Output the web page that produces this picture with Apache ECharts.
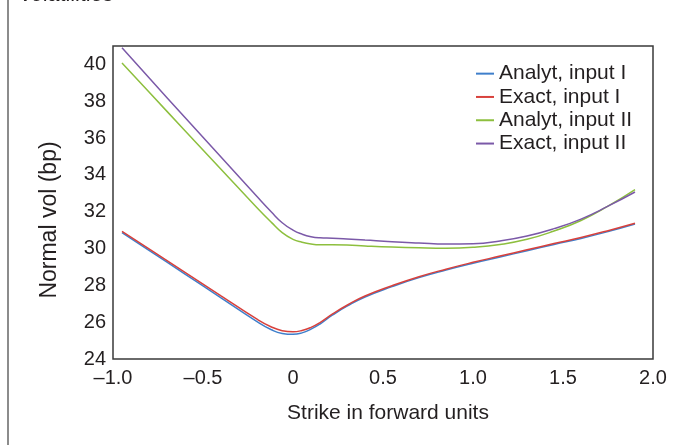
<!DOCTYPE html>
<html>
<head>
<meta charset="utf-8">
<script src="https://cdn.jsdelivr.net/npm/echarts@6/dist/echarts.min.js"></script>
<style>
  html, body { margin: 0; padding: 0; background: #ffffff; }
  #chart { width: 696px; height: 445px; }
</style>
</head>
<body>
<div id="chart"></div>
<script>
const strikes = [-0.95, -0.8, -0.6, -0.4, -0.2, -0.12, -0.06, 0, 0.05, 0.1, 0.15, 0.22, 0.3, 0.4, 0.55, 0.7, 0.85, 1.0, 1.15, 1.3, 1.45, 1.6, 1.75, 1.9];

const analytInputI = [30.86, 29.90, 28.61, 27.32, 26.03, 25.59, 25.39, 25.34, 25.42, 25.62, 25.90, 26.39, 26.87, 27.37, 27.93, 28.42, 28.83, 29.20, 29.54, 29.88, 30.22, 30.55, 30.92, 31.33];
const exactInputI  = [30.93, 29.98, 28.71, 27.43, 26.16, 25.74, 25.54, 25.48, 25.55, 25.72, 25.98, 26.45, 26.92, 27.42, 27.98, 28.47, 28.88, 29.25, 29.59, 29.93, 30.27, 30.60, 30.97, 31.37];
const analytInputII = [40.08, 38.50, 36.40, 34.31, 32.22, 31.42, 30.86, 30.50, 30.34, 30.24, 30.20, 30.20, 30.19, 30.14, 30.08, 30.04, 30.02, 30.07, 30.22, 30.50, 30.95, 31.52, 32.30, 33.20];
const exactInputII  = [40.90, 39.27, 37.12, 34.97, 32.82, 31.98, 31.40, 31.00, 30.78, 30.64, 30.58, 30.56, 30.52, 30.46, 30.37, 30.30, 30.24, 30.26, 30.41, 30.68, 31.08, 31.60, 32.30, 33.07];

const seriesNames = ['Analyt, input I', 'Exact, input I', 'Analyt, input II', 'Exact, input II'];
const xTickLabels = ['\u20131.0', '\u20130.5', '0', '0.5', '1.0', '1.5', '2.0'];
const yTickLabels = ['24', '26', '28', '30', '32', '34', '36', '38', '40'];

const xAxisTitle = 'Strike in forward units';
const yAxisTitle = 'Normal vol (bp)';
const topText = 'volatilities';

const colors = ['#3f7fcb', '#d8413c', '#8dbf3e', '#7b59a8'];
const FONT = '"Liberation Sans", Arial, Helvetica, sans-serif';
const TEXT = '#231f20';

const allValues = [analytInputI, exactInputI, analytInputII, exactInputII];

const chart = echarts.init(document.getElementById('chart'), null, { renderer: 'canvas' });

chart.setOption({
  animation: false,
  backgroundColor: '#ffffff',
  textStyle: { fontFamily: FONT, color: TEXT },
  grid: {
    left: 113, right: 43, top: 46, bottom: 86,
    show: true, borderColor: '#3a3a3a', borderWidth: 1.5, backgroundColor: 'transparent'
  },
  legend: {
    orient: 'vertical',
    left: 476, top: 62,
    padding: 0,
    icon: 'rect',
    itemWidth: 18, itemHeight: 2,
    itemGap: 0,
    textStyle: { fontFamily: FONT, fontSize: 21, color: TEXT, lineHeight: 23.3 },
    data: seriesNames
  },
  xAxis: {
    type: 'value',
    min: -1, max: 2, interval: 0.5,
    axisLine: { show: false },
    axisTick: { show: false },
    splitLine: { show: false },
    axisLabel: {
      fontFamily: FONT, fontSize: 20, color: TEXT, margin: 9,
      formatter: function (v, i) { return xTickLabels[i] !== undefined ? xTickLabels[i] : ''; }
    },
    name: xAxisTitle,
    nameLocation: 'middle',
    nameGap: 44,
    nameTextStyle: { fontFamily: FONT, fontSize: 21, color: TEXT, padding: [0, 0, 0, 10] }
  },
  yAxis: {
    type: 'value',
    min: 24, max: 41, interval: 2,
    axisLine: { show: false },
    axisTick: { show: false },
    splitLine: { show: false },
    axisLabel: {
      fontFamily: FONT, fontSize: 20, color: TEXT, margin: 7,
      showMaxLabel: false,
      formatter: function (v) {
        const s = String(v);
        return yTickLabels.indexOf(s) >= 0 ? s : '';
      }
    }
  },
  graphic: [
    { type: 'rect', left: 7, top: 0, shape: { width: 2, height: 445 }, style: { fill: '#8c8c8c' }, silent: true },
    {
      type: 'text', x: 50, y: 220, rotation: Math.PI / 2,
      style: { text: yAxisTitle, fontFamily: FONT, fontSize: 23, fill: TEXT, textAlign: 'center', textVerticalAlign: 'middle' }
    },
    {
      type: 'text', x: 20, y: -5,
      style: { text: topText, fontFamily: FONT, fontSize: 21.5, fill: TEXT, textAlign: 'left', textVerticalAlign: 'middle' }
    }
  ],
  series: seriesNames.map(function (name, k) {
    return {
      name: name,
      type: 'line',
      smooth: 0.5,
      showSymbol: false,
      symbol: 'none',
      color: colors[k],
      lineStyle: { width: 1.5, color: colors[k] },
      data: strikes.map(function (x, i) { return [x, allValues[k][i]]; })
    };
  })
});
</script>
</body>
</html>
